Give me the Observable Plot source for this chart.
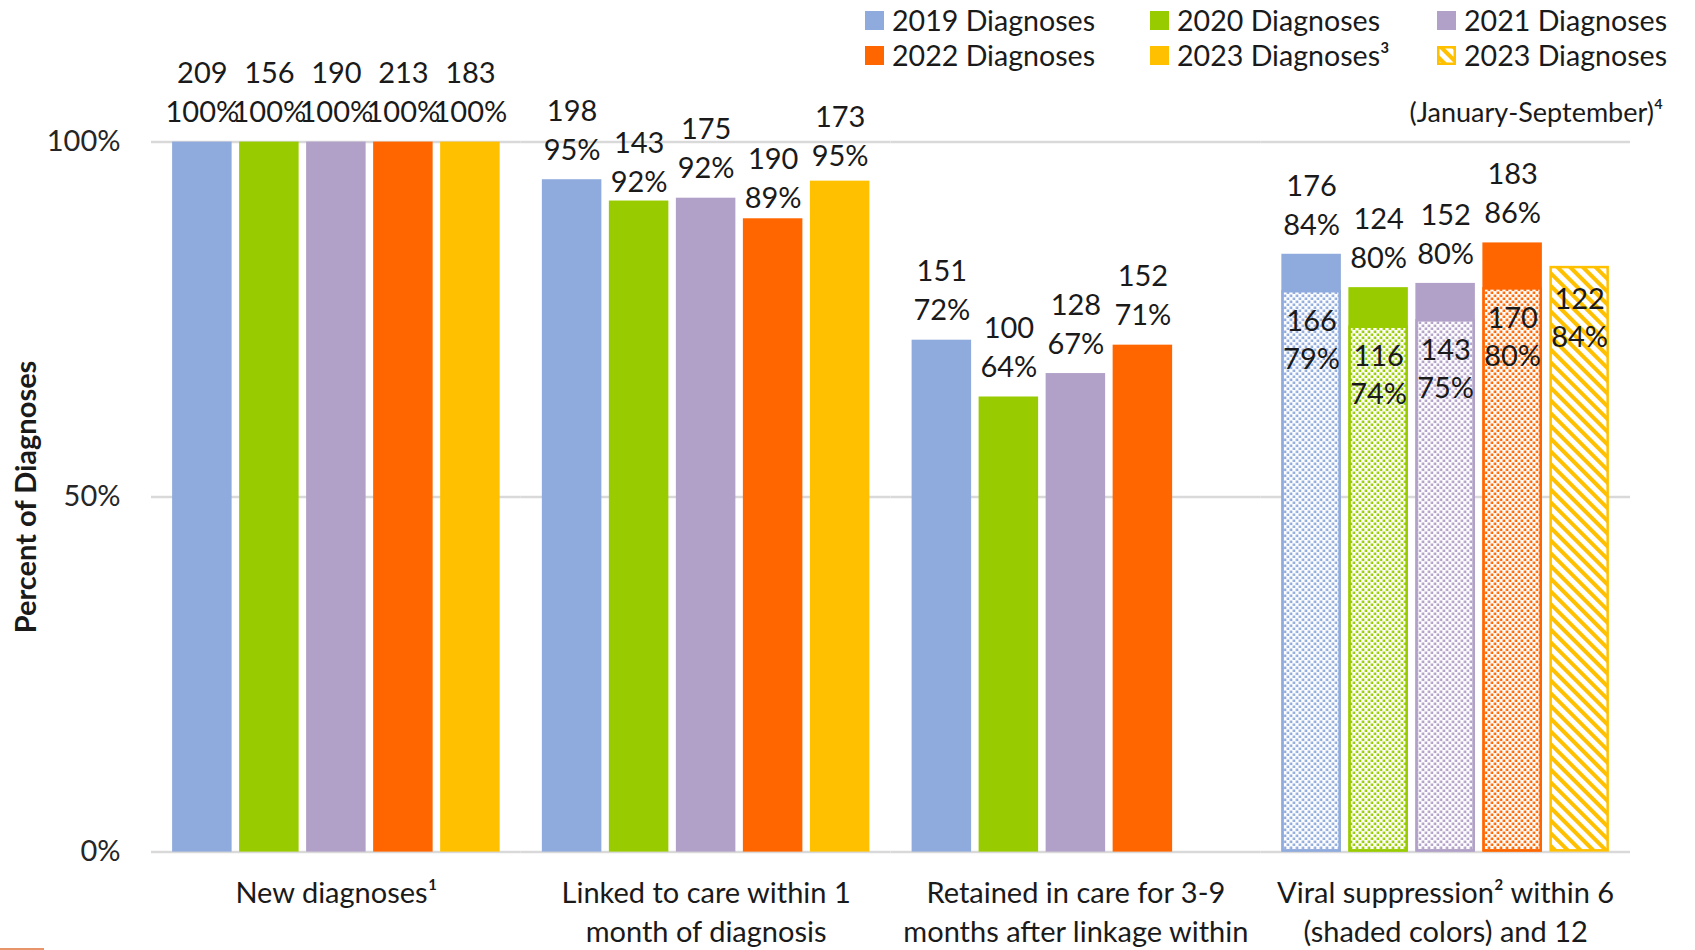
<!DOCTYPE html>
<html>
<head>
<meta charset="utf-8">
<script src="https://cdn.jsdelivr.net/npm/d3@7"></script>
<script src="https://cdn.jsdelivr.net/npm/@observablehq/plot@0.6"></script>
<style>
html, body { margin: 0; padding: 0; background: #fff; }
#wrap { position: relative; width: 1695px; height: 950px; overflow: hidden;
  font-family: Lato, "Open Sans", sans-serif; color: #1a1a1a; }
#chart { position: absolute; left: 0; top: 0; }
.leg { position: absolute; height: 34px; display: flex; align-items: center;
  font-size: 28.6px; white-space: nowrap; line-height: 1; }
.sw { width: 19px; height: 19px; margin-right: 8px; flex: none; }
#ytitle { position: absolute; left: 24px; top: 497px; font-size: 29px; font-weight: bold;
  white-space: nowrap; transform: translate(-50%, -50%) rotate(-90deg); }
#note { position: absolute; right: 32px; top: 95px; font-size: 27px; line-height: 34px; white-space: nowrap; }
#artifact { position: absolute; left: 0; top: 948px; width: 44px; height: 2px; background: #E8956B; }
</style>
</head>
<body>
<div id="wrap">
  <div id="chart"></div>
  <div id="ytitle">Percent of Diagnoses</div>
  <div id="legend"></div>
  <div id="note">(January-September)⁴</div>
  <div id="artifact"></div>
</div>
<script>
// ---- data ----
const categories = [
  "New diagnoses¹",
  "Linked to care within 1\nmonth of diagnosis",
  "Retained in care for 3-9\nmonths after linkage within",
  "Viral suppression² within 6\n(shaded colors) and 12"
];
const years = ["2019", "2020", "2021", "2022", "2023"];
const yearColors = ["#8FAADC", "#99CC00", "#B1A0C7", "#FF6600", "#FFC000"];
const legendLabels = ["2019 Diagnoses", "2020 Diagnoses", "2021 Diagnoses",
  "2022 Diagnoses", "2023 Diagnoses³", "2023 Diagnoses"];

const newCounts = [209, 156, 190, 213, 183];
const newPct = [100, 100, 100, 100, 100];
const newHeight = [1.0, 1.0, 1.0, 1.0, 1.0];

const linkedCounts = [198, 143, 175, 190, 173];
const linkedPct = [95, 92, 92, 89, 95];
const linkedHeight = [0.947, 0.917, 0.921, 0.892, 0.945];

const retainedCounts = [151, 100, 128, 152];
const retainedPct = [72, 64, 67, 71];
const retainedHeight = [0.721, 0.641, 0.674, 0.714];

const vs12Counts = [176, 124, 152, 183];
const vs12Pct = [84, 80, 80, 86];
const vs12Height = [0.842, 0.795, 0.801, 0.858];

const vs6Counts = [166, 116, 143, 170];
const vs6Pct = [79, 74, 75, 80];
const vs6Height = [0.791, 0.741, 0.750, 0.795];

const vs2023Count = [122];
const vs2023Pct = [84];
const vs2023Height = [0.825];

const yTicks = [0, 0.5, 1];

// ---- layout: extra downward nudge (px) of labels that were moved in the original ----
const labelNudge = {};
labelNudge[categories[1] + "|2020"] = 11;
labelNudge[categories[1] + "|2022"] = 9;
labelNudge[categories[1] + "|2023"] = 5;

// ---- tables ----
function rows(cat, counts, pcts, heights, startYear = 0) {
  return counts.map((c, i) => ({
    cat, year: years[startYear + i], color: yearColors[startYear + i],
    h: heights[i], count: String(c), pct: pcts[i] + "%"
  }));
}
const solid = [
  ...rows(categories[0], newCounts, newPct, newHeight),
  ...rows(categories[1], linkedCounts, linkedPct, linkedHeight),
  ...rows(categories[2], retainedCounts, retainedPct, retainedHeight),
  ...rows(categories[3], vs12Counts, vs12Pct, vs12Height)
];
const dotted = rows(categories[3], vs6Counts, vs6Pct, vs6Height);
const hatched = rows(categories[3], vs2023Count, vs2023Pct, vs2023Height, 4);

const nudge = d => labelNudge[d.cat + "|" + d.year] || 0;
const fs = 29;
const txt = { fontSize: fs, fill: "#1a1a1a", lineAnchor: "middle" };

function labelMarks(data, dyCount, dyPct, useNudge) {
  const groups = useNudge ? d3.groups(data, nudge) : [[0, data]];
  return groups.flatMap(([n, ds]) => [
    Plot.text(ds, { fx: "cat", x: "year", y: "h", text: "count", dy: dyCount + n, ...txt }),
    Plot.text(ds, { fx: "cat", x: "year", y: "h", text: "pct", dy: dyPct + n, ...txt })
  ]);
}

const chart = Plot.plot({
  width: 1695,
  height: 950,
  marginLeft: 151,
  marginRight: 65,
  marginTop: 141.6,
  marginBottom: 98.4,
  style: { fontFamily: 'Lato, "Open Sans", sans-serif', background: "transparent" },
  fx: { domain: categories, padding: 0, round: false },
  x: { domain: years, paddingInner: 0.112, paddingOuter: 0.315, round: false, axis: null },
  y: { domain: [0, 1], axis: null },
  color: { type: "identity" },
  marks: [
    Plot.ruleY(yTicks, { stroke: "#D9D9D9", strokeWidth: 2.5 }),
    Plot.barY(solid, { fx: "cat", x: "year", y: "h", fill: "color" }),
    Plot.barY(dotted, { fx: "cat", x: "year", y: "h", fill: d => "url(#dots" + d.year + ")",
      stroke: "color", strokeWidth: 2.5, inset: 1.25 }),
    Plot.barY(hatched, { fx: "cat", x: "year", y: "h", fill: "url(#hatch2023)",
      stroke: "color", strokeWidth: 2.5, inset: 1.25 }),
    ...labelMarks(solid, -68, -29, true),
    ...labelMarks(dotted, 31, 69, false),
    ...labelMarks(hatched, 33, 71, false),
    Plot.axisY({ ticks: yTicks, tickFormat: d3.format(".0%"), tickSize: 0, tickPadding: 31,
      fontSize: fs, color: "#262626", label: null }),
    Plot.axisFx({ anchor: "bottom", tickSize: 0, tickPadding: 23.5, fontSize: fs,
      lineHeight: 1.345, color: "#1a1a1a", label: null })
  ]
});

// patterns
let defs = '';
years.slice(0, 4).forEach((y, i) => {
  defs += `<pattern id="dots${y}" patternUnits="userSpaceOnUse" width="6" height="6">
    <rect width="6" height="6" fill="#fff"/>
    <rect x="0.5" y="0.5" width="2.6" height="2.6" fill="${yearColors[i]}"/>
    <rect x="3.5" y="3.5" width="2.6" height="2.6" fill="${yearColors[i]}"/>
  </pattern>`;
});
defs += `<pattern id="hatch2023" patternUnits="userSpaceOnUse" width="9" height="9" patternTransform="rotate(-45)">
  <rect width="9" height="9" fill="#fff"/>
  <rect x="0" y="0" width="4" height="9" fill="${yearColors[4]}"/>
</pattern>`;
d3.select(chart).insert("defs", ":first-child").html(defs);
document.getElementById("chart").appendChild(chart);

// legend
const legPos = [
  [865, 20.5], [1150, 20.5], [1437, 20.5],
  [865, 55], [1150, 55], [1437, 55]
];
const legend = document.getElementById("legend");
legendLabels.forEach((lab, i) => {
  const div = document.createElement("div");
  div.className = "leg";
  div.style.left = legPos[i][0] + "px";
  div.style.top = (legPos[i][1] - 17) + "px";
  let sw;
  if (i === 5) {
    sw = `<svg class="sw" width="19" height="19"><rect x="1.25" y="1.25" width="16.5" height="16.5" fill="url(#hatch2023)" stroke="${yearColors[4]}" stroke-width="2.5"/></svg>`;
  } else {
    sw = `<div class="sw" style="background:${yearColors[i]}"></div>`;
  }
  div.innerHTML = sw + `<span>${lab}</span>`;
  legend.appendChild(div);
});
</script>
</body>
</html>
